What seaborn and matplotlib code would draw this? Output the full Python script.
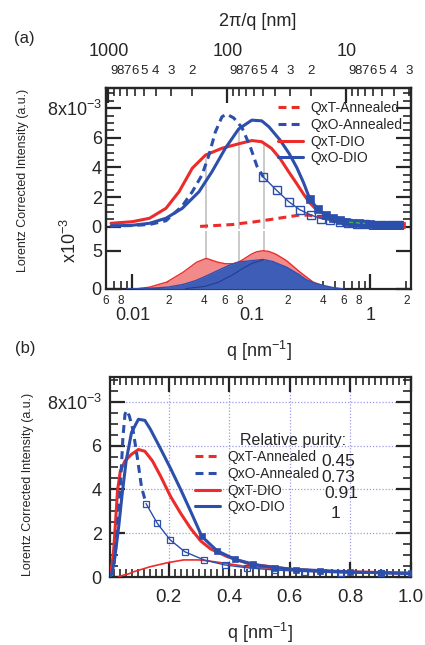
import numpy as np
import pandas as pd
import matplotlib
matplotlib.use("Agg")
import matplotlib.pyplot as plt
import seaborn as sns
from matplotlib.ticker import FixedLocator, FuncFormatter, NullLocator, FixedFormatter
from matplotlib.lines import Line2D

sns.set_style("ticks")
plt.rcParams["font.family"] = ["Liberation Sans", "DejaVu Sans"]
plt.rcParams["mathtext.default"] = "regular"
plt.rcParams["axes.linewidth"] = 1.6

# ---------------- data (intensity in units of 1e-3) ----------------
# QxT-DIO (red solid)
q_txt_dio = [0.0066, 0.01, 0.0139, 0.0191, 0.0246, 0.0318, 0.0411, 0.0565, 0.078, 0.1007,
             0.122, 0.147, 0.174, 0.207, 0.24, 0.273, 0.306, 0.339, 0.394, 0.466, 0.6,
             0.73, 1.0, 1.57, 1.9]
i_txt_dio = [0.23, 0.34, 0.57, 1.24, 2.36, 3.95, 4.84, 5.3, 5.6, 5.82,
             5.74, 5.3, 4.6, 3.67, 2.91, 2.22, 1.65, 1.28, 0.93, 0.6, 0.35,
             0.25, 0.18, 0.1, 0.08]
# QxO-DIO (blue solid)
q_txo_dio = [0.0066, 0.01, 0.0139, 0.0191, 0.0262, 0.0362, 0.0466, 0.0603, 0.078, 0.1007,
             0.122, 0.14, 0.174, 0.207, 0.24, 0.273, 0.31, 0.36, 0.42, 0.5, 0.61,
             0.8, 1.0, 1.57, 1.9]
i_txo_dio = [0.05, 0.1, 0.23, 0.57, 1.24, 2.36, 3.72, 5.3, 6.6, 7.2,
             7.15, 6.75, 5.85, 4.95, 4.0, 3.0, 1.85, 1.2, 0.8, 0.52, 0.35,
             0.23, 0.16, 0.1, 0.08]
# QxO-Annealed (blue dashed, low-q part)
q_txo_ann = [0.0066, 0.01, 0.0139, 0.0191, 0.0262, 0.0318, 0.0384, 0.0439, 0.0497, 0.0565,
             0.062, 0.0708, 0.0831, 0.0977, 0.111, 0.126]
i_txo_ann = [0.05, 0.08, 0.15, 0.4, 1.4, 2.36, 3.5, 4.84, 6.4, 7.43,
             7.6, 7.35, 6.7, 5.4, 4.1, 3.35]
# QxO-Annealed measured points (open squares)
q_txo_ann_pts = [0.126, 0.163, 0.205, 0.254, 0.317, 0.386, 0.46, 0.55, 0.65, 0.77,
                 0.9, 1.05, 1.25, 1.5, 1.75]
i_txo_ann_pts = [3.35, 2.45, 1.7, 1.15, 0.78, 0.55, 0.42, 0.32, 0.25, 0.19,
                 0.16, 0.13, 0.11, 0.1, 0.09]
# QxO-DIO measured points (filled squares)
q_txo_dio_pts = [0.31, 0.36, 0.42, 0.48, 0.55, 0.62, 0.7, 0.8, 0.9, 1.0,
                 1.12, 1.25, 1.4, 1.55, 1.75]
i_txo_dio_pts = [1.85, 1.2, 0.8, 0.58, 0.42, 0.34, 0.28, 0.23, 0.19, 0.16,
                 0.14, 0.12, 0.11, 0.1, 0.09]
# QxT-DIO measured points (red squares)
q_txt_dio_pts = [0.5, 0.6, 0.72, 0.85, 1.0, 1.2, 1.4, 1.65, 1.85]
i_txt_dio_pts = [0.5, 0.36, 0.27, 0.21, 0.18, 0.14, 0.12, 0.1, 0.09]
# QxT-Annealed (red dashed)
q_txt_ann = [0.037, 0.05, 0.07, 0.085, 0.1, 0.14, 0.196, 0.25, 0.3, 0.339,
             0.4, 0.47, 0.6, 0.69, 0.8, 0.91, 1.0, 1.3, 1.9]
i_txt_ann = [0.02, 0.08, 0.15, 0.24, 0.3, 0.47, 0.65, 0.78, 0.78, 0.72,
             0.6, 0.45, 0.36, 0.32, 0.25, 0.19, 0.17, 0.13, 0.1]
# small green fit segment
q_green = [0.66, 0.9]
i_green = [0.3, 0.22]
# peak decomposition (lower panel of a)
q_fill_red = [0.0105, 0.0139, 0.0194, 0.0267, 0.0346, 0.0417, 0.052, 0.06, 0.07, 0.08, 0.09,
              0.1, 0.11, 0.125, 0.14, 0.16, 0.197, 0.256, 0.33, 0.42, 0.48, 0.6]
i_fill_red = [0, 0.24, 0.9, 2.2, 3.5, 4.0, 3.5, 3.3, 3.3, 3.6, 4.1,
              4.55, 4.85, 5.0, 4.9, 4.55, 3.7, 2.2, 0.9, 0.3, 0.1, 0]
q_fill_blue = [0.0089, 0.0139, 0.02, 0.0267, 0.034, 0.0417, 0.052, 0.065, 0.08, 0.1,
               0.125, 0.15, 0.197, 0.25, 0.29, 0.35, 0.42, 0.5, 0.6]
i_fill_blue = [0, 0.08, 0.25, 0.6, 1.1, 1.7, 2.4, 3.1, 3.55, 3.7,
               3.85, 3.6, 2.85, 1.9, 1.2, 0.7, 0.4, 0.15, 0]
q_comp = [0.028, 0.041, 0.053, 0.0685, 0.085, 0.101, 0.125]
i_comp = [0.05, 0.35, 0.9, 1.8, 2.7, 3.35, 3.8]
# peak markers
q_peaks = [0.0411, 0.0778, 0.128]
i_peaks = [4.6, 6.7, 5.7]

legend_labels = ["QxT-Annealed", "QxO-Annealed", "QxT-DIO", "QxO-DIO"]
purity = ["0.45", "0.73", "0.91", "1"]

# ---------------- style ----------------
RED = "#ec2b2b"
BLUE = "#2c4fab"
RED_FILL = "#f28a8a"
BLUE_FILL = "#3d5db6"
GREY = "#c6c6c6"
DASH = (0, (2.6, 1.7))

W, H = 425, 645
fig = plt.figure(figsize=(W / 100, H / 100), dpi=100)


def rect(l, t, r, b):
    return [l / W, 1 - b / H, (r - l) / W, (b - t) / H]


ax1 = fig.add_axes(rect(106, 88, 411, 229))
ax2 = fig.add_axes(rect(106, 231, 411, 289))
ax3 = fig.add_axes(rect(110, 377, 411, 577))

for ax in (ax1, ax2):
    ax.set_xscale("log")
    ax.set_xlim(0.00599, 2.19)
ax1.set_ylim(-0.155e-3, 9.37e-3)
ax2.set_ylim(0, 7.57e-3)
ax3.set_xlim(0.007, 1.0)
ax3.set_ylim(0, 9.13e-3)


def line(ax, q, i, color, lw, ls="-", z=3, **kw):
    df = pd.DataFrame({"q": q, "I": np.asarray(i, float) * 1e-3})
    sns.lineplot(data=df, x="q", y="I", ax=ax, color=color, lw=lw, linestyle=ls,
                 sort=False, estimator=None, zorder=z, **kw)


# ---- panel (a) upper ----
ax1.vlines(q_peaks, -0.155e-3, np.asarray(i_peaks) * 1e-3, color=GREY, lw=1.3, zorder=1)
line(ax1, q_txt_ann, i_txt_ann, RED, 2.2, DASH)
line(ax1, q_txt_dio, i_txt_dio, RED, 2.2)
line(ax1, q_txo_dio, i_txo_dio, BLUE, 2.2)
line(ax1, q_txo_ann, i_txo_ann, BLUE, 2.2, DASH)
line(ax1, q_txo_ann_pts, i_txo_ann_pts, BLUE, 1.0, marker="s", markersize=6,
     markerfacecolor="none", markeredgecolor=BLUE, markeredgewidth=1.0)
line(ax1, q_txt_dio_pts, i_txt_dio_pts, RED, 0, marker="s", markersize=5,
     markerfacecolor=RED, markeredgecolor=RED, markeredgewidth=0.5)
line(ax1, q_txo_dio_pts, i_txo_dio_pts, BLUE, 0, marker="s", markersize=6,
     markerfacecolor=BLUE, markeredgecolor=BLUE, markeredgewidth=0.5)
line(ax1, q_green, i_green, "#3cb44b", 1.0, (0, (3, 2)), z=6)

# ---- panel (a) lower ----
ax2.set_axisbelow(True)
ax2.vlines(q_peaks, 0, 7.57e-3, color=GREY, lw=1.3, zorder=1)
ax2.fill_between(q_fill_red, np.asarray(i_fill_red) * 1e-3, color=RED_FILL, lw=0, zorder=2)
line(ax2, q_fill_red, i_fill_red, RED, 1.0, z=2.1)
ax2.fill_between(q_fill_blue, np.asarray(i_fill_blue) * 1e-3, color=BLUE_FILL, lw=0, zorder=3)
line(ax2, q_fill_blue, i_fill_blue, "#3050b0", 1.0, z=3.1)
line(ax2, q_comp, i_comp, "#223a8a", 0.7, z=3.2)

# ---- panel (b) ----
ax3.grid(True, which="major", color="#9c9ce6", ls=(0, (1, 1.5)), lw=0.9)
line(ax3, q_txt_ann, i_txt_ann, RED, 1.2)
line(ax3, q_txt_dio, i_txt_dio, RED, 2.2)
line(ax3, q_txo_dio, i_txo_dio, BLUE, 2.2)
line(ax3, q_txo_ann, i_txo_ann, BLUE, 2.2, DASH)
line(ax3, q_txo_ann_pts, i_txo_ann_pts, BLUE, 1.0, marker="s", markersize=5,
     markerfacecolor="none", markeredgecolor=BLUE, markeredgewidth=0.9)
line(ax3, q_txo_dio_pts, i_txo_dio_pts, BLUE, 0, marker="s", markersize=4,
     markerfacecolor=BLUE, markeredgecolor=BLUE, markeredgewidth=0.5)

for ax in (ax1, ax2, ax3):
    ax.set_xlabel("")
    ax.set_ylabel("")

# ---------------- ticks ----------------
MAJ = dict(direction="in", length=11, width=1.6)
MIN = dict(direction="in", length=5.5, width=1.2)


def ylab(v, p):
    n = int(round(v * 1e3))
    return "8x10$^{-3}$" if n == 8 else str(n)


y_major = [0, 2e-3, 4e-3, 6e-3, 8e-3]
y_minor = [k * 0.5e-3 for k in range(1, 19) if k % 4 != 0]
for ax in (ax1, ax3):
    ax.yaxis.set_major_locator(FixedLocator(y_major))
    ax.yaxis.set_minor_locator(FixedLocator(y_minor))
    ax.yaxis.set_major_formatter(FuncFormatter(ylab))
    ax.tick_params(axis="y", which="major", left=True, right=True, labelsize=13, **MAJ)
    ax.tick_params(axis="y", which="minor", left=True, right=True, **MIN)
ax1.tick_params(axis="y", which="major", pad=3)
ax3.tick_params(axis="y", which="major", pad=6)

# top axis of (a): 2pi/q
top = ax1.twiny()
top.set_xscale("log")
top.set_xlim(ax1.get_xlim())
d_major = [1000, 100, 10]
d_minor = [900, 800, 700, 600, 500, 400, 300, 200, 90, 80, 70, 60, 50, 40, 30, 20,
           9, 8, 7, 6, 5, 4, 3]
top.xaxis.set_major_locator(FixedLocator([2 * np.pi / d for d in d_major]))
top.xaxis.set_minor_locator(FixedLocator([2 * np.pi / d for d in d_minor]))
top.xaxis.set_major_formatter(FuncFormatter(lambda v, p: f"{2 * np.pi / v:.0f}"))
top.xaxis.set_minor_formatter(FuncFormatter(lambda v, p: f"{2 * np.pi / v:.0f}"[0]))
top.tick_params(axis="x", which="major", top=True, bottom=False, labelsize=13, pad=20, **MAJ)
top.tick_params(axis="x", which="minor", top=True, bottom=False, labelsize=9.5, pad=8, **MIN)
top.spines["bottom"].set_visible(False)
ax1.tick_params(axis="x", which="both", bottom=False, top=False, labelbottom=False, labeltop=False)
ax1.spines["bottom"].set_visible(False)

# bottom log axis of (a)
ax2.xaxis.set_major_locator(FixedLocator([0.01, 0.1, 1.0]))
ax2.xaxis.set_major_formatter(FixedFormatter(["0.01", "0.1", "1"]))
minor_q = [m * 10.0 ** e for e in (-3, -2, -1, 0) for m in range(2, 10)]
ax2.xaxis.set_minor_locator(FixedLocator(minor_q))


def minlab(v, p):
    lead = int(round(v / 10 ** np.floor(np.log10(v) + 1e-9)))
    return str(lead) if lead in (2, 4, 6, 8) else ""


ax2.xaxis.set_minor_formatter(FuncFormatter(minlab))
ax2.tick_params(axis="x", which="major", bottom=True, top=False, labelsize=13, pad=13, **MAJ)
ax2.tick_params(axis="x", which="minor", bottom=True, top=False, labelsize=8.5, pad=4, **MIN)
ax2.yaxis.set_major_locator(FixedLocator([0, 5e-3]))
ax2.yaxis.set_major_formatter(FixedFormatter(["0", "5"]))
ax2.yaxis.set_minor_locator(NullLocator())
ax2.tick_params(axis="y", which="major", left=True, right=True, labelsize=13, pad=3, **MAJ)
ax2.spines["top"].set_visible(False)

# (b) x axis
ax3.xaxis.set_major_locator(FixedLocator([0.2, 0.4, 0.6, 0.8, 1.0]))
ax3.xaxis.set_major_formatter(FixedFormatter(["0.2", "0.4", "0.6", "0.8", "1.0"]))
ax3.xaxis.set_minor_locator(FixedLocator([k * 0.02 for k in range(1, 50) if k % 10 != 0]))
ax3.tick_params(axis="x", which="major", bottom=True, top=True, labelsize=13.5, pad=9, **MAJ)
ax3.tick_params(axis="x", which="minor", bottom=True, top=True, **MIN)

for ax in (ax1, ax2, ax3, top):
    for s in ax.spines.values():
        s.set_linewidth(1.6)

# ---------------- legends ----------------
def handles():
    return [Line2D([], [], color=RED, lw=2.2, ls=DASH),
            Line2D([], [], color=BLUE, lw=2.2, ls=DASH),
            Line2D([], [], color=RED, lw=2.2),
            Line2D([], [], color=BLUE, lw=2.2)]


common = dict(loc="upper left", bbox_transform=fig.transFigure, frameon=False, fontsize=10,
              handlelength=1.8, handletextpad=0.5, labelspacing=0.2, borderpad=0,
              borderaxespad=0)
ax1.legend(handles=handles(), labels=legend_labels, bbox_to_anchor=(278 / W, 1 - 101 / H), **common)
ax3.legend(handles=handles(), labels=legend_labels, bbox_to_anchor=(195 / W, 1 - 450 / H), **common)

# ---------------- texts ----------------
def ftext(x, y, s, **kw):
    fig.text(x / W, 1 - y / H, s, ha=kw.pop("ha", "center"), va=kw.pop("va", "center"), **kw)


ftext(258, 22, "2π/q [nm]", fontsize=13)
ftext(24, 38, "(a)", fontsize=12)
ftext(25, 349, "(b)", fontsize=12)
ftext(259, 351, "q [nm$^{-1}$]", fontsize=13)
ftext(260, 633, "q [nm$^{-1}$]", fontsize=13)
ftext(23, 180, "Lorentz Corrected Intensity (a.u.)", fontsize=9, rotation=90)
ftext(28, 484, "Lorentz Corrected Intensity (a.u.)", fontsize=9, rotation=90)
ftext(70, 240, "x10$^{-3}$", fontsize=13, rotation=90)
ftext(293, 441, "Relative purity:", fontsize=11.5)
for (x, y), s in zip([(338, 462), (338, 477), (341, 494), (336, 513)], purity):
    ftext(x, y, s, fontsize=12.5)

fig.savefig("out.png", dpi=100)
